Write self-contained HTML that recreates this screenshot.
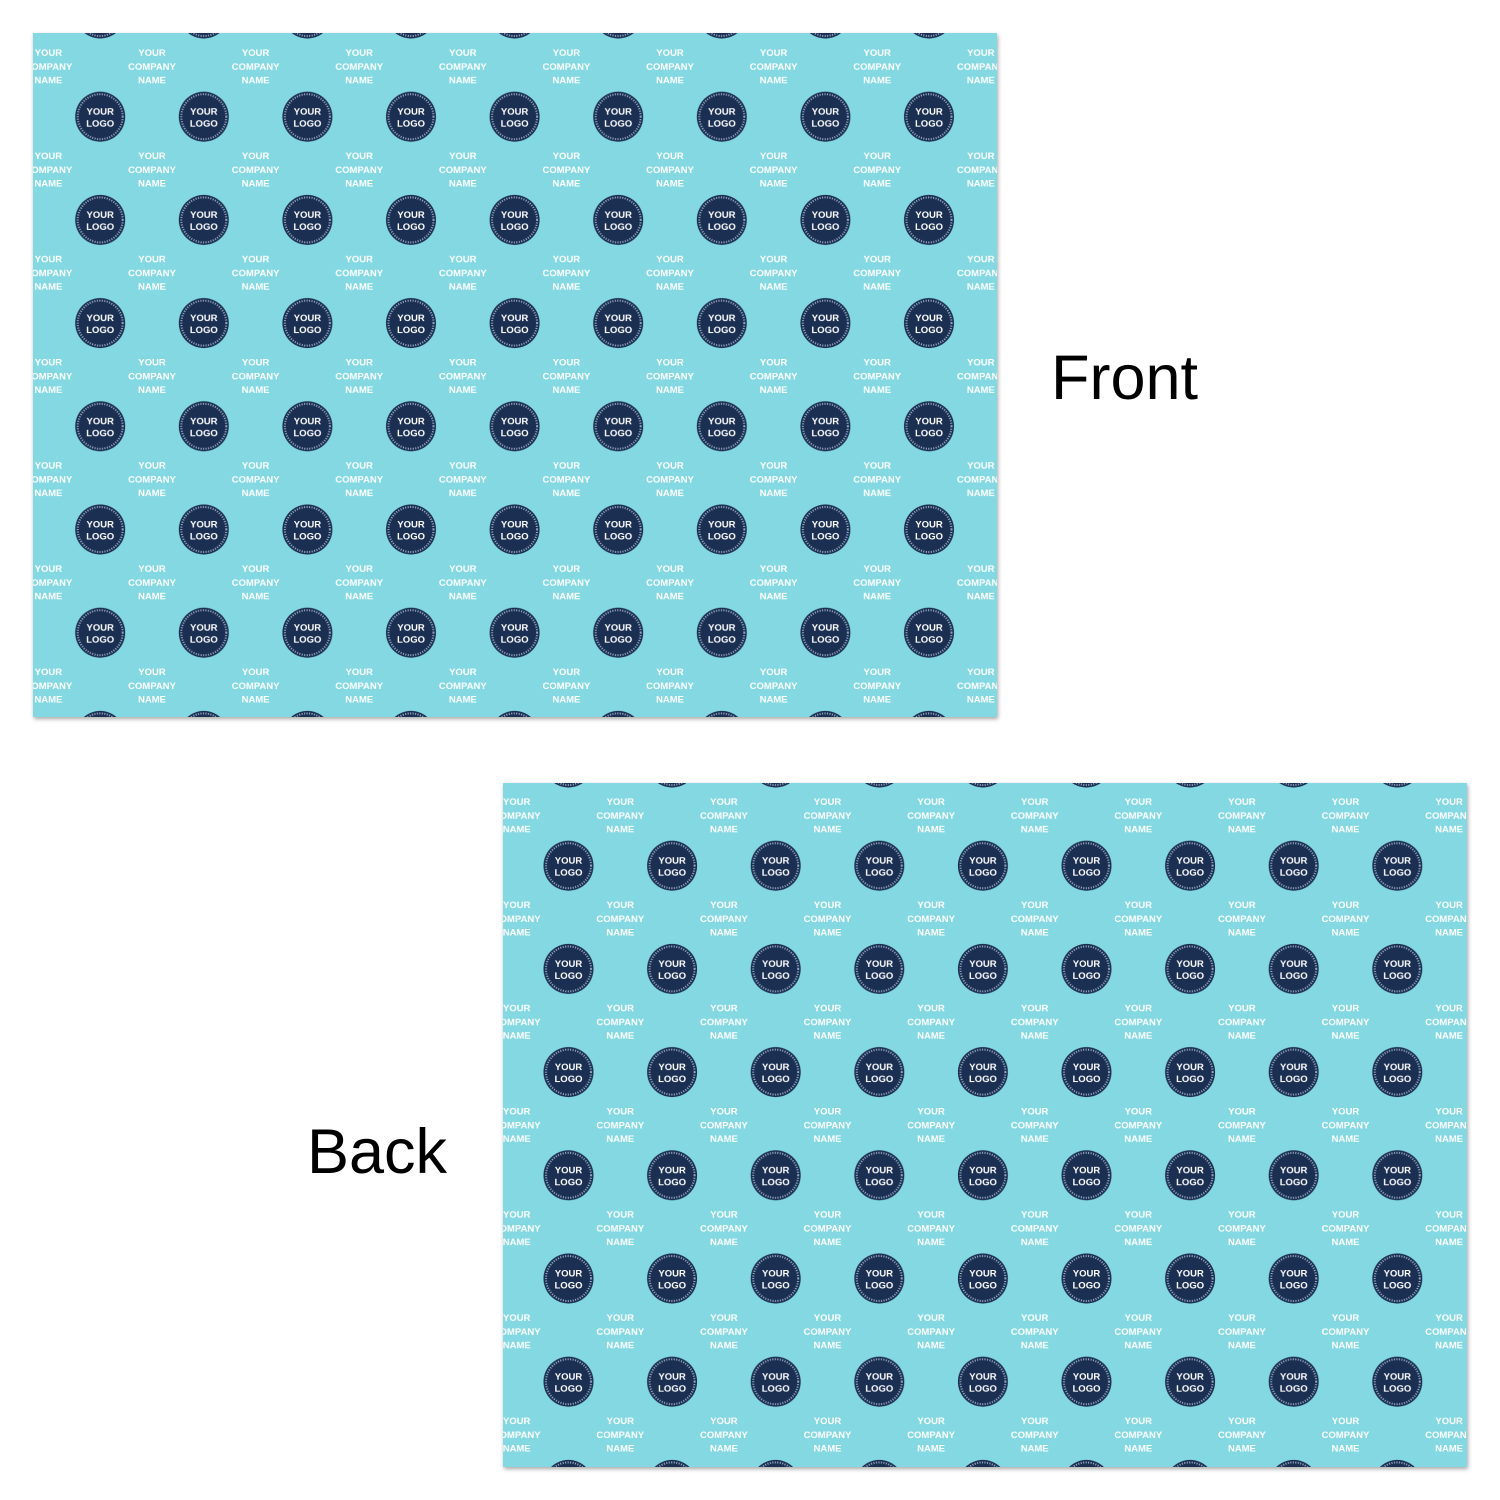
<!DOCTYPE html>
<html><head><meta charset="utf-8"><style>
html,body{margin:0;padding:0;background:#fff;width:1500px;height:1500px;overflow:hidden;font-family:"Liberation Sans",sans-serif}
.card{position:absolute;width:964px;height:684px;box-shadow:1px 2px 4px rgba(0,0,0,0.35)}
.lbl{position:absolute;font-size:63px;color:#000;line-height:1}
</style></head><body>
<svg width="0" height="0" style="position:absolute">
<defs>
<g id="logo">
<circle r="25" fill="#1b2f52"/>
<circle r="22.5" fill="none" stroke="#9fb4cc" stroke-width="2" stroke-dasharray="1 1.5"/>
<circle r="20.5" fill="#1b2f52"/>
<text x="0" y="-2" text-anchor="middle" font-family="Liberation Sans" font-weight="bold" font-size="9.5" fill="#fff">YOUR</text>
<text x="0" y="10" text-anchor="middle" font-family="Liberation Sans" font-weight="bold" font-size="9.5" fill="#fff">LOGO</text>
</g>
<g id="name" font-family="Liberation Sans" font-weight="bold" font-size="9.5" fill="#fff" text-anchor="middle">
<text x="0" y="-9">YOUR</text>
<text x="0" y="4.5">COMPANY</text>
<text x="0" y="18">NAME</text>
</g>
<pattern id="pat" patternUnits="userSpaceOnUse" x="67.2" y="-19.5" width="103.6" height="103.2">
<rect width="103.6" height="103.2" fill="#84d8e2"/>
<use href="#name" x="51.8" y="51.6"/>
<use href="#logo" x="0" y="0"/>
<use href="#logo" x="103.6" y="0"/>
<use href="#logo" x="0" y="103.2"/>
<use href="#logo" x="103.6" y="103.2"/>
</pattern>
<pattern id="pat2" href="#pat" x="65.5" y="-20.5"/>
</defs>
</svg>
<div class="card" style="left:33px;top:33px"><svg width="964" height="684"><rect width="964" height="684" fill="url(#pat)"/></svg></div>
<div class="card" style="left:503px;top:783px"><svg width="964" height="684"><rect width="964" height="684" fill="url(#pat2)"/></svg></div>
<div class="lbl" style="left:1051px;top:347px">Front</div>
<div class="lbl" style="left:307px;top:1121px">Back</div>
</body></html>
